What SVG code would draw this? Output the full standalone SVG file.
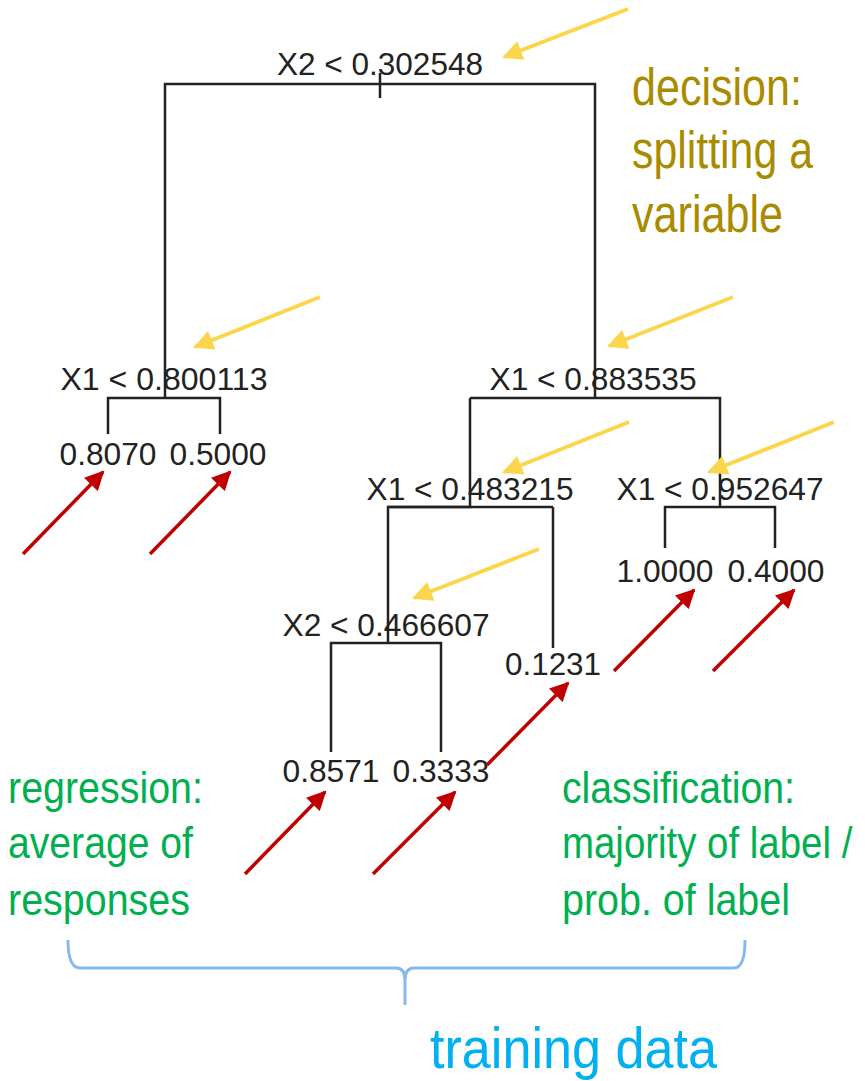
<svg xmlns="http://www.w3.org/2000/svg" width="865" height="1081" viewBox="0 0 865 1081">
<style>
.t{font-family:"Liberation Sans",Arial,sans-serif;font-size:32px;fill:#222;text-anchor:middle}
.tree{stroke:#222;stroke-width:2.5;fill:none}
.ya{stroke:#FBD54C;stroke-width:4;marker-end:url(#yh)}
.ra{stroke:#C00000;stroke-width:3.5;marker-end:url(#rh)}
.g{font-family:"Liberation Sans",Arial,sans-serif;font-size:44px;fill:#00B050}
.d{font-family:"Liberation Sans",Arial,sans-serif;font-size:51px;fill:#A88B00}
</style>
<defs>
<marker id="yh" viewBox="0 0 10 10" refX="9" refY="5" markerWidth="5.5" markerHeight="5" orient="auto" markerUnits="strokeWidth"><path d="M0,0 L10,5 L0,10 Z" fill="#FBD54C"/></marker>
<marker id="rh" viewBox="0 0 10 10" refX="9" refY="5" markerWidth="6" markerHeight="5.5" orient="auto" markerUnits="strokeWidth"><path d="M0,0 L10,5 L0,10 Z" fill="#C00000"/></marker>
</defs>
<rect width="865" height="1081" fill="#fff"/>
<g id="connectors">
<path class="tree" d="M380,73 V98 M165,398 V84 H595 V398"/>
<path class="tree" d="M108,434 V398 H220 V434"/>
<path class="tree" d="M388,643 V507 H470 V398 M553,648 V507 M470,398 H720 V507"/>
<path class="tree" d="M388,507 H553"/>
<path class="tree" d="M665,548 V507 H775 V548"/>
<path class="tree" d="M331,752 V643 H441 V752"/>
</g>
<g id="n-root"><text class="t" x="380" y="75" textLength="206" lengthAdjust="spacingAndGlyphs">X2 &lt; 0.302548</text></g>
<g id="n-left"><text class="t" x="164" y="390" textLength="207" lengthAdjust="spacingAndGlyphs">X1 &lt; 0.800113</text></g>
<g id="n-right"><text class="t" x="593" y="390" textLength="207" lengthAdjust="spacingAndGlyphs">X1 &lt; 0.883535</text></g>
<g id="n-rl"><text class="t" x="470" y="500" textLength="207" lengthAdjust="spacingAndGlyphs">X1 &lt; 0.483215</text></g>
<g id="n-rr"><text class="t" x="720" y="500" textLength="207" lengthAdjust="spacingAndGlyphs">X1 &lt; 0.952647</text></g>
<g id="n-rll"><text class="t" x="386" y="636" textLength="207" lengthAdjust="spacingAndGlyphs">X2 &lt; 0.466607</text></g>
<g id="leaf1"><text class="t" x="108" y="465" textLength="97" lengthAdjust="spacingAndGlyphs">0.8070</text></g>
<g id="leaf2"><text class="t" x="218" y="465" textLength="97" lengthAdjust="spacingAndGlyphs">0.5000</text></g>
<g id="leaf3"><text class="t" x="665" y="582" textLength="97" lengthAdjust="spacingAndGlyphs">1.0000</text></g>
<g id="leaf4"><text class="t" x="776" y="582" textLength="97" lengthAdjust="spacingAndGlyphs">0.4000</text></g>
<g id="leaf5"><text class="t" x="553" y="675" textLength="96" lengthAdjust="spacingAndGlyphs">0.1231</text></g>
<g id="leaf6"><text class="t" x="331" y="782" textLength="97" lengthAdjust="spacingAndGlyphs">0.8571</text></g>
<g id="leaf7"><text class="t" x="441" y="782" textLength="97" lengthAdjust="spacingAndGlyphs">0.3333</text></g>
<g id="yellow-arrows">
<line class="ya" x1="628" y1="9" x2="504" y2="57"/>
<line class="ya" x1="320" y1="297" x2="195" y2="347"/>
<line class="ya" x1="733" y1="297" x2="609" y2="346"/>
<line class="ya" x1="629" y1="422" x2="504" y2="472"/>
<line class="ya" x1="834" y1="422" x2="709" y2="472"/>
<line class="ya" x1="539" y1="549" x2="414" y2="598"/>
</g>
<g id="red-arrows">
<line class="ra" x1="23" y1="554" x2="103" y2="472"/>
<line class="ra" x1="150" y1="554" x2="230" y2="472"/>
<line class="ra" x1="614" y1="671" x2="694" y2="590"/>
<line class="ra" x1="713" y1="671" x2="794" y2="590"/>
<line class="ra" x1="487" y1="765" x2="568" y2="683"/>
<line class="ra" x1="245" y1="874" x2="325" y2="792"/>
<line class="ra" x1="373" y1="874" x2="455" y2="792"/>
</g>
<g id="decision-label">
<text class="d" x="632" y="105" textLength="170" lengthAdjust="spacingAndGlyphs">decision:</text>
<text class="d" x="632" y="168" textLength="181" lengthAdjust="spacingAndGlyphs">splitting a</text>
<text class="d" x="632" y="232" textLength="151" lengthAdjust="spacingAndGlyphs">variable</text>
</g>
<g id="regression-label">
<text class="g" x="8" y="803" textLength="195" lengthAdjust="spacingAndGlyphs">regression:</text>
<text class="g" x="8" y="858" textLength="185" lengthAdjust="spacingAndGlyphs">average of</text>
<text class="g" x="8" y="915" textLength="182" lengthAdjust="spacingAndGlyphs">responses</text>
</g>
<g id="classification-label">
<text class="g" x="562" y="803" textLength="233" lengthAdjust="spacingAndGlyphs">classification:</text>
<text class="g" transform="translate(562,858) scale(0.873,1)">majority of label /</text>
<text class="g" x="562" y="915" textLength="228" lengthAdjust="spacingAndGlyphs">prob. of label</text>
</g>
<g id="brace">
<path d="M68,940 Q68,968 80,968 L396,968 Q405,968 405,980 L405,1005 M405,980 Q405,968 414,968 L734,968 Q745,968 745,940" fill="none" stroke="#86B9F2" stroke-width="3"/>
<text x="430" y="1068" font-family="Liberation Sans, Arial, sans-serif" font-size="58" fill="#00B0F0" textLength="287" lengthAdjust="spacingAndGlyphs">training data</text>
</g>
</svg>
